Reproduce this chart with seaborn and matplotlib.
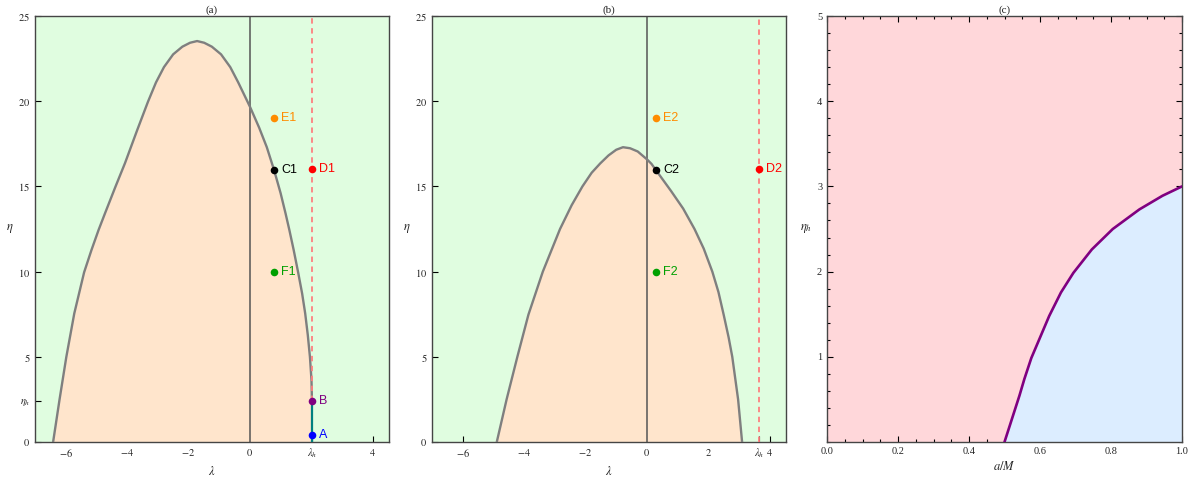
import numpy as np
import pandas as pd
import seaborn as sns
import matplotlib.pyplot as plt
from matplotlib.ticker import MultipleLocator

# curve (a): boundary (lambda, eta)
lam_a = [-6.41, -6.20, -5.98, -5.72, -5.40, -5.16, -4.93, -4.72, -4.38, -4.07,
         -3.67, -3.32, -3.06, -2.80, -2.50, -2.20, -1.95, -1.72, -1.49, -1.24,
         -0.94, -0.64, -0.38, 0.00, 0.30, 0.55, 0.79, 1.00, 1.16, 1.285,
         1.425, 1.57, 1.70, 1.80, 1.885, 1.955, 2.005, 2.02]
eta_a = [0.0, 2.5, 4.99, 7.55, 9.96, 11.27, 12.44, 13.42, 14.98, 16.36,
         18.31, 19.97, 21.1, 22.0, 22.75, 23.2, 23.43, 23.53, 23.43, 23.2,
         22.75, 22.0, 21.1, 19.68, 18.45, 17.30, 15.94, 14.6, 13.42, 12.44,
         11.27, 9.96, 8.72, 7.55, 6.28, 4.99, 3.64, 2.43]

# curve (b)
lam_b = [-4.89, -4.57, -4.22, -3.86, -3.39, -2.83, -2.45, -2.10, -1.80, -1.52,
         -1.25, -1.00, -0.78, -0.55, -0.30, 0.00, 0.15, 0.30, 0.79, 1.18,
         1.55, 1.85, 2.13, 2.33, 2.50, 2.66, 2.78, 2.97, 3.10]
eta_b = [0.0, 2.5, 5.0, 7.47, 10.0, 12.5, 13.9, 15.0, 15.8, 16.35,
         16.82, 17.15, 17.3, 17.24, 17.05, 16.59, 16.32, 15.94, 14.72, 13.7,
         12.5, 11.35, 10.0, 8.8, 7.47, 6.15, 5.0, 2.5, 0.0]

# curve (c): eta_h vs a/M
a_c = [0.500, 0.542, 0.556, 0.5755, 0.626, 0.659, 0.694, 0.746, 0.805, 0.880, 0.945, 1.000]
eta_c = [0.0, 0.543, 0.74, 0.985, 1.48, 1.755, 1.985, 2.26, 2.50, 2.73, 2.89, 3.0]

lam_h_a, eta_h_a = 2.02, 2.43
lam_h_b = 3.64

pts_a = pd.DataFrame({"name": ["E1", "C1", "D1", "F1", "B", "A"],
                      "lam": [0.78, 0.79, 2.02, 0.78, 2.02, 2.02],
                      "eta": [19.0, 15.94, 16.0, 10.0, 2.43, 0.4]})
pts_b = pd.DataFrame({"name": ["E2", "C2", "D2", "F2"],
                      "lam": [0.29, 0.30, 3.64, 0.29],
                      "eta": [19.0, 15.94, 16.0, 10.0]})
pt_colors = {"E1": "#ff8c00", "C1": "black", "D1": "red", "F1": "#00a000",
             "B": "purple", "A": "blue",
             "E2": "#ff8c00", "C2": "black", "D2": "red", "F2": "#00a000"}

sns.set_theme(style="ticks")
plt.rcParams["font.family"] = ["Liberation Serif", "DejaVu Serif"]
plt.rcParams["mathtext.fontset"] = "stix"

green = "#e0fde0"
peach = "#ffe5cc"
pink = "#ffd7da"
blue = "#dcedff"
curve_col = "#7f7f7f"
frame = "#454545"

fig = plt.figure(figsize=(11.91, 4.79), dpi=100)
W, H = 1191, 479
axa = fig.add_axes([35 / W, 1 - 442 / H, 354 / W, 426 / H])
axb = fig.add_axes([432 / W, 1 - 442 / H, 354 / W, 426 / H])
axc = fig.add_axes([827 / W, 1 - 442 / H, 355 / W, 426 / H])


def base(ax, lam, eta):
    ax.set_facecolor(green)
    ax.fill_between(lam, 0, eta, color=peach, lw=0, zorder=1)
    ax.axvline(0, color="#555555", lw=1.1, zorder=2)
    sns.lineplot(x=lam, y=eta, sort=False, ax=ax, color=curve_col, lw=1.7, zorder=3)
    ax.set_xlim(-7.0, 4.53)
    ax.set_ylim(0, 25)
    ax.set_xlabel(r"$\lambda$", fontsize=9, labelpad=3)
    ax.set_ylabel(r"$\eta$", fontsize=9, rotation=0, labelpad=6, va="center")
    ax.tick_params(direction="in", length=4, width=0.8, labelsize=7.5, color="black")
    for s in ax.spines.values():
        s.set_color(frame)
        s.set_linewidth(1.0)


def points(ax, df):
    for _, r in df.iterrows():
        c = pt_colors[r["name"]]
        ax.scatter(r["lam"], r["eta"], s=30, color=c, zorder=6, linewidths=0)
        ax.annotate(r["name"], (r["lam"], r["eta"]), xytext=(5, 0),
                    textcoords="offset points", va="center", ha="left",
                    color=c, fontsize=9, family=["Liberation Sans", "DejaVu Sans"],
                    zorder=7)


# panel (a)
base(axa, lam_a, eta_a)
axa.plot([lam_h_a, lam_h_a], [eta_h_a, 25], color="#ff7f7f", lw=1.3,
         ls=(0, (3, 2.5)), zorder=4)
axa.plot([lam_h_a, lam_h_a], [0, eta_h_a], color="#008080", lw=1.6, zorder=4)
axa.set_xticks([-6, -4, -2, 0, lam_h_a, 4])
axa.set_xticklabels(["$-6$", "$-4$", "$-2$", "$0$", r"$\lambda_h$", "$4$"])
axa.set_yticks([0, eta_h_a, 5, 10, 15, 20, 25])
axa.set_yticklabels(["$0$", r"$\eta_h$", "$5$", "$10$", "$15$", "$20$", "$25$"])
points(axa, pts_a)
axa.set_title("(a)", fontsize=8, pad=2)

# panel (b)
base(axb, lam_b, eta_b)
axb.axvline(lam_h_b, color="#ff7f7f", lw=1.3, ls=(0, (3, 2.5)), zorder=4)
axb.set_xticks([-6, -4, -2, 0, 2, lam_h_b, 4])
axb.set_xticklabels(["$-6$", "$-4$", "$-2$", "$0$", "$2$", r"$\lambda_h$", "$4$"])
axb.set_yticks([0, 5, 10, 15, 20, 25])
axb.set_yticklabels(["$0$", "$5$", "$10$", "$15$", "$20$", "$25$"])
points(axb, pts_b)
axb.set_title("(b)", fontsize=8, pad=2)

# panel (c)
axc.set_facecolor(pink)
axc.fill_between(a_c, eta_c, 0, color=blue, lw=0, zorder=1)
sns.lineplot(x=a_c, y=eta_c, sort=False, ax=axc, color="#800080", lw=1.9, zorder=3)
axc.set_xlim(0, 1)
axc.set_ylim(0, 5)
axc.set_xticks([0.0, 0.2, 0.4, 0.6, 0.8, 1.0])
axc.set_xticklabels(["0.0", "0.2", "0.4", "0.6", "0.8", "1.0"])
axc.xaxis.set_minor_locator(MultipleLocator(0.05))
axc.set_yticks([1, 2, 3, 4, 5])
axc.set_yticklabels(["1", "2", "3", "4", "5"])
axc.yaxis.set_minor_locator(MultipleLocator(0.2))
axc.tick_params(which="both", direction="in", top=True, right=True,
                labelsize=7.5, color="black", width=0.8)
axc.tick_params(which="major", length=4)
axc.tick_params(which="minor", length=2.5)
axc.set_xlabel(r"$a/M$", fontsize=9, labelpad=3)
axc.set_ylabel(r"$\eta_h$", fontsize=9, rotation=0, labelpad=8, va="center")
for s in axc.spines.values():
    s.set_color(frame)
    s.set_linewidth(1.0)
axc.set_title("(c)", fontsize=8, pad=2)

fig.savefig("out.png", dpi=100)
